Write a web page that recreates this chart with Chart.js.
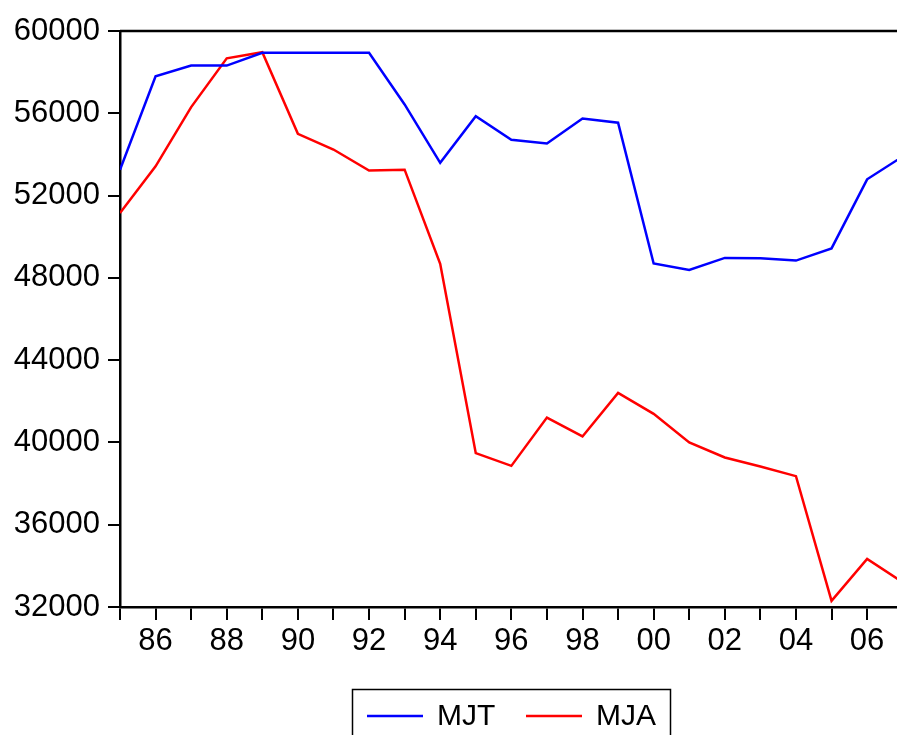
<!DOCTYPE html>
<html>
<head>
<meta charset="utf-8">
<script src="https://cdn.jsdelivr.net/npm/chart.js@4"></script>
<style>
  html, body { margin: 0; padding: 0; background: #fff; }
  #wrap { width: 897px; height: 735px; }
</style>
</head>
<body>
<div id="wrap"><canvas id="grafica" width="897" height="735"></canvas></div>
<script>
const years = [1985, 1986, 1987, 1988, 1989, 1990, 1991, 1992, 1993, 1994, 1995, 1996,
    1997, 1998, 1999, 2000, 2001, 2002, 2003, 2004, 2005, 2006, 2007];
const mjt = [53250, 57800, 58320, 58320, 58940, 58940, 58940, 58940, 56430, 53590, 55860, 54710,
    54530, 55750, 55540, 48700, 48380, 48970, 48950, 48840, 49430, 52790, 53900];
const mja = [51150, 53420, 56300, 58670, 58970, 55000, 54240, 53220, 53260, 48680, 39480, 38860,
    41210, 40290, 42410, 41390, 40000, 39270, 38830, 38360, 32300, 34340, 33200];
const yTicks = { min: 32000, max: 60000, step: 4000 };

const font = "'Liberation Sans', Arial, sans-serif";

const marco = {
    id: 'marco',
    afterDraw(chart) {
        const c = chart.ctx;
        const a = chart.chartArea;
        c.save();
        c.strokeStyle = '#000';
        c.lineWidth = 2.5;
        c.beginPath();
        c.moveTo(a.left, a.top);
        c.lineTo(a.right, a.top);
        c.stroke();

        // legend box
        c.lineWidth = 1.5;
        c.strokeRect(352.5, 689.5, 318, 70);
        c.font = '30px ' + font;
        c.textBaseline = 'middle';
        c.fillStyle = '#000';
        const items = [{ x: 367 }, { x: 526 }];
        chart.data.datasets.forEach((ds, i) => {
            const x = items[i].x;
            c.strokeStyle = ds.borderColor;
            c.lineWidth = 2.5;
            c.beginPath();
            c.moveTo(x, 716);
            c.lineTo(x + 56, 716);
            c.stroke();
            c.fillText(ds.label, x + 70, 717);
        });
        c.restore();
    }
};

new Chart(document.getElementById('grafica'), {
    type: 'line',
    data: {
        datasets: [
            {
                label: 'MJT',
                data: years.map((y, i) => ({ x: y, y: mjt[i] })),
                borderColor: '#0000ff',
                borderWidth: 2.5,
                pointRadius: 0,
                tension: 0,
                fill: false
            }, {
                label: 'MJA',
                data: years.map((y, i) => ({ x: y, y: mja[i] })),
                borderColor: '#ff0000',
                borderWidth: 2.5,
                pointRadius: 0,
                tension: 0,
                fill: false
            }
        ]
    },
    options: {
        responsive: false,
        animation: false,
        layout: { padding: { top: 31, right: 0, bottom: 68, left: 0 } },
        plugins: {
            legend: { display: false },
            tooltip: { enabled: false }
        },
        scales: {
            x: {
                type: 'linear',
                min: 1985,
                max: 2006.84,
                afterFit: (s) => { s.height = 60; },
                border: { display: true, color: '#000', width: 2.5 },
                grid: { drawOnChartArea: false, drawTicks: true, tickLength: 13, color: '#000', lineWidth: 2 },
                ticks: {
                    stepSize: 1,
                    autoSkip: false,
                    includeBounds: false,
                    maxRotation: 0,
                    padding: 3,
                    color: '#000',
                    font: { family: font, size: 31 },
                    callback: (v) => (v % 2 === 0 ? String(v).slice(-2) : '')
                }
            },
            y: {
                min: yTicks.min,
                max: yTicks.max,
                afterFit: (s) => { s.width = 120; },
                border: { display: true, color: '#000', width: 2.5 },
                grid: { drawOnChartArea: false, drawTicks: true, tickLength: 12, color: '#000', lineWidth: 2 },
                ticks: {
                    stepSize: yTicks.step,
                    padding: 8,
                    color: '#000',
                    font: { family: font, size: 31 },
                    callback: (v) => String(v)
                }
            }
        }
    },
    plugins: [marco]
});
</script>
</body>
</html>
